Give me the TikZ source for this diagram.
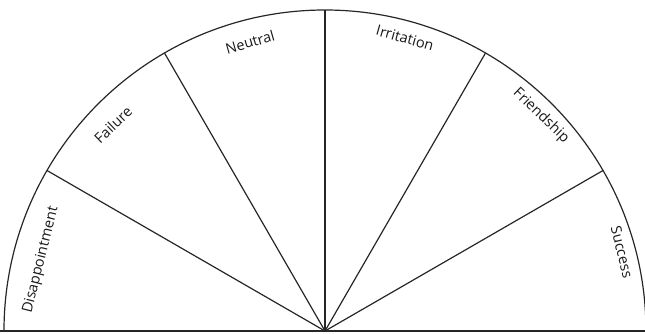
\documentclass[tikz,border=0pt]{standalone}
\usepackage{fontspec}
\setmainfont{Open Sans}
\begin{document}
\begin{tikzpicture}[x=1pt,y=1pt,
  edge/.style={draw=black!85, line width=1.2pt},
  lbl/.style={font=\fontsize{14.5}{16}\selectfont, inner sep=0pt, text=black!90}]
\useasboundingbox (-325,-2) rectangle (320,331);
\coordinate (O) at (0,0);
\coordinate (L) at (-325,0);
\coordinate (R) at (320,0);
\foreach \a in {30,60,90,120,150} {\coordinate (p\a) at (\a:321);}
\draw[edge] (L) -- (R);
\draw[edge] (-321,0) arc (180:0:321);
\foreach \a in {30,60,90,120,150} {\draw[edge] (O) -- (p\a);}
\node[lbl, rotate=76]  (dis) at (-284,71) {Disappointment};
\node[lbl, rotate=44]  (fai) at (-212,206) {Failure};
\node[lbl, rotate=16]  (neu) at (-75,289) {Neutral};
\node[lbl, rotate=-16] (irr) at (80,293) {Irritation};
\node[lbl, rotate=-44] (fri) at (216,215) {Friendship};
\node[lbl, rotate=-76] (suc) at (297,79) {Success};
\end{tikzpicture}
\end{document}
